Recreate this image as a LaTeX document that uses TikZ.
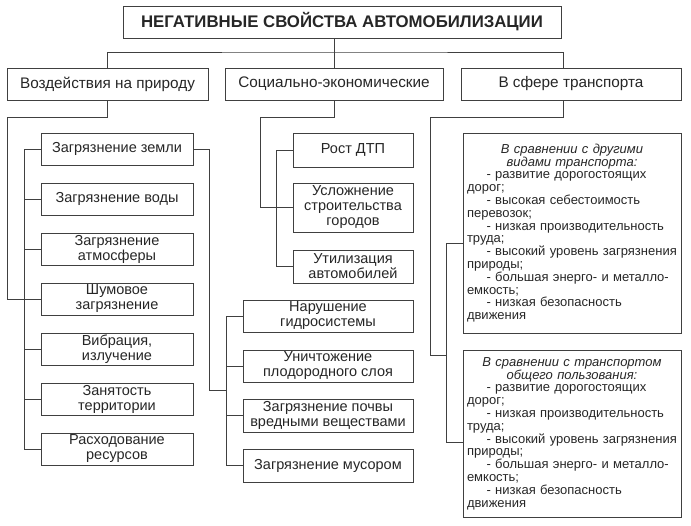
\documentclass[tikz,border=0pt]{standalone}
\usepackage{fontspec}
\setmainfont{Liberation Sans}
\usepackage{tikz}

\begin{document}
\begin{tikzpicture}[x=1pt, y=-1pt,
        box/.style={draw=black!75, line width=0.8pt, text=black!85, rectangle, inner sep=1pt, align=center, font=\fontsize{14.5}{15}\selectfont},
        head/.style={box, font=\fontsize{15.3}{16}\selectfont},
        notes/.style={box, align=left, text width=210pt, inner xsep=4pt, inner ysep=1pt, font=\fontsize{13}{12.8}\selectfont},
        wire/.style={draw=black!75, line width=0.8pt}]
        \useasboundingbox (0,0) rectangle (691,525);

        \node[box, minimum width=438pt, minimum height=32pt, font=\bfseries\fontsize{16.8}{18}\selectfont] (title) at (342,22) {НЕГАТИВНЫЕ СВОЙСТВА АВТОМОБИЛИЗАЦИИ};

        \node[head, minimum width=201pt, minimum height=32pt] (nature) at (107.5,84) {Воздействия на природу};
        \node[head, minimum width=218pt, minimum height=32pt] (social) at (334,84) {Социально-экономические};
        \node[head, minimum width=220pt, minimum height=32pt] (transport) at (571,84) {В сфере транспорта};

        \node[box, minimum width=152pt, minimum height=32pt] (nat1) at (117,149) {Загрязнение земли};
        \node[box, minimum width=152pt, minimum height=32pt] (nat2) at (117,199) {Загрязнение воды};
        \node[box, minimum width=152pt, minimum height=32pt] (nat3) at (117,249) {Загрязнение\\атмосферы};
        \node[box, minimum width=152pt, minimum height=32pt] (nat4) at (117,299) {Шумовое\\загрязнение};
        \node[box, minimum width=152pt, minimum height=32pt] (nat5) at (117,349) {Вибрация,\\излучение};
        \node[box, minimum width=152pt, minimum height=32pt] (nat6) at (117,399) {Занятость\\территории};
        \node[box, minimum width=152pt, minimum height=32pt] (nat7) at (117,449) {Расходование\\ресурсов};

        \node[box, minimum width=120pt, minimum height=34pt] (soc1) at (353,150) {Рост ДТП};
        \node[box, minimum width=120pt, minimum height=49pt] (soc2) at (353,207.5) {Усложнение\\строительства\\городов};
        \node[box, minimum width=120pt, minimum height=33pt] (soc3) at (353,266.5) {Утилизация\\автомобилей};

        \node[box, minimum width=170pt, minimum height=32pt] (env1) at (328,316) {Нарушение\\гидросистемы};
        \node[box, minimum width=170pt, minimum height=32pt] (env2) at (328,366) {Уничтожение\\плодородного слоя};
        \node[box, minimum width=170pt, minimum height=33pt] (env3) at (328,415.5) {Загрязнение почвы\\вредными веществами};
        \node[box, minimum width=170pt, minimum height=33pt] (env4) at (328,465.5) {Загрязнение мусором};

        \node[notes, minimum width=218pt, minimum height=200pt] (trn1) at (572,233) {{\centering\itshape В сравнении с другими\\видами транспорта:\par}
                \hspace*{1.5em}- развитие дорогостоящих\\дорог;\\
                \hspace*{1.5em}- высокая себестоимость\\перевозок;\\
                \hspace*{1.5em}- низкая производительность\\труда;\\
                \hspace*{1.5em}- высокий уровень загрязнения\\природы;\\
                \hspace*{1.5em}- большая энерго- и металло-\\емкость;\\
                \hspace*{1.5em}- низкая безопасность\\движения};
        \node[notes, minimum width=218pt, minimum height=167pt] (trn2) at (572,433.5) {{\centering\itshape В сравнении с транспортом\\общего пользования:\par}
                \hspace*{1.5em}- развитие дорогостоящих\\дорог;\\
                \hspace*{1.5em}- низкая производительность\\труда;\\
                \hspace*{1.5em}- высокий уровень загрязнения\\природы;\\
                \hspace*{1.5em}- большая энерго- и металло-\\емкость;\\
                \hspace*{1.5em}- низкая безопасность\\движения};

        \coordinate (hub) at (334,52);
        \coordinate (natbend) at (7,299);
        \coordinate (socbend) at (260,207.5);
        \coordinate (envjoin) at (227,390);
        \coordinate (trnbend) at (430,355);
        \coordinate (trnjoin) at (447,355);

        \draw[wire] (title.south -| social.north) -- (social.north);
        \draw[wire] (nature.north) |- (hub) -| ([xshift=-8pt]transport.north);

        \draw[wire] (nature.south) -- ++(0,17) -| (natbend) -- (nat4.west);
        \draw[wire] (nat1.west) -- ++(-16,0) |- (nat7.west);
        \draw[wire] (nat2.west) -- ++(-16,0);
        \draw[wire] (nat3.west) -- ++(-16,0);
        \draw[wire] (nat5.west) -- ++(-16,0);
        \draw[wire] (nat6.west) -- ++(-16,0);
        \draw[wire] (nat1.east) -- ++(16,0) |- (envjoin);

        \draw[wire] (env1.west) -- ++(-16,0) |- (env4.west);
        \draw[wire] (env2.west) -- ++(-16,0);
        \draw[wire] (env3.west) -- ++(-16,0);

        \draw[wire] (social.south) -- ++(0,17) -| (socbend) -- (soc2.west);
        \draw[wire] (soc1.west) -- ++(-16,0) |- (soc3.west);

        \draw[wire] ([xshift=-8pt]transport.south) -- ++(0,17) -| (trnbend) -- (trnjoin);
        \draw[wire] ([yshift=-10pt]trn1.west) -- ++(-16,0) |- ([yshift=-8.5pt]trn2.west);
\end{tikzpicture}
\end{document}
